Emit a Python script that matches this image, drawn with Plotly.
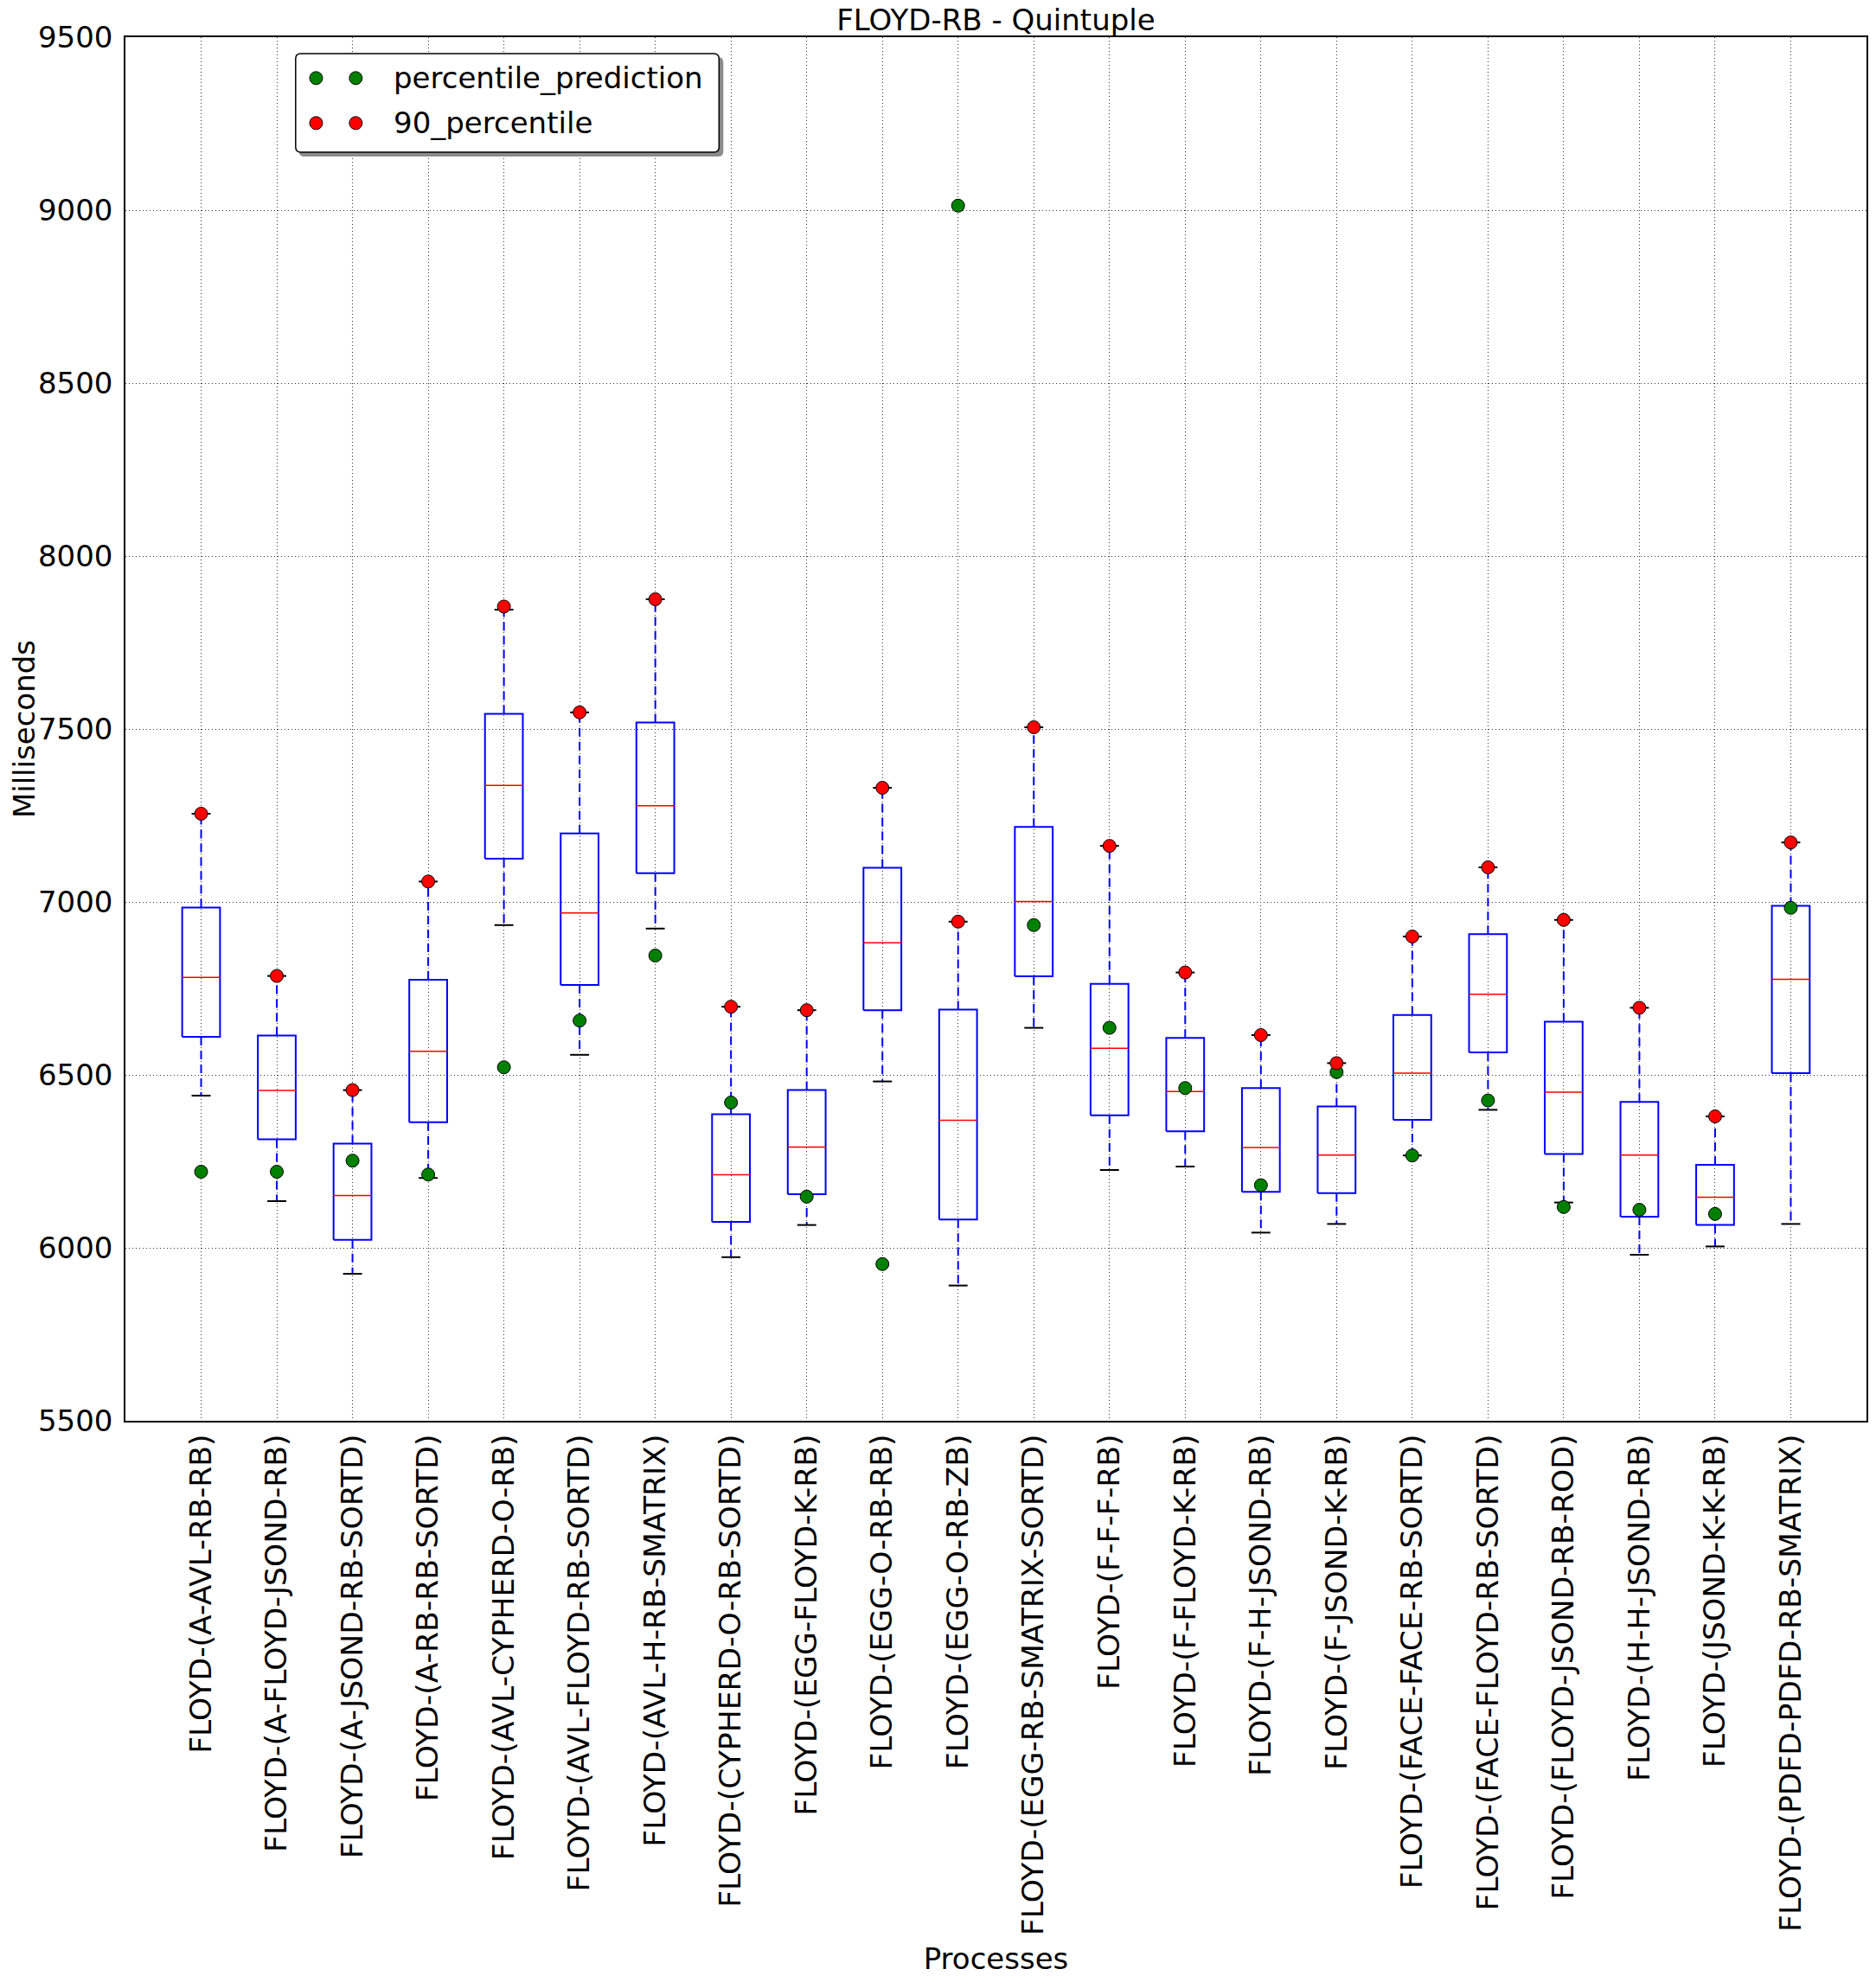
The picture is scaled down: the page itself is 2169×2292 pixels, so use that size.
import plotly.graph_objects as go

# ---------------- data ----------------
categories = [
    "FLOYD-(A-AVL-RB-RB)",
    "FLOYD-(A-FLOYD-JSOND-RB)",
    "FLOYD-(A-JSOND-RB-SORTD)",
    "FLOYD-(A-RB-RB-SORTD)",
    "FLOYD-(AVL-CYPHERD-O-RB)",
    "FLOYD-(AVL-FLOYD-RB-SORTD)",
    "FLOYD-(AVL-H-RB-SMATRIX)",
    "FLOYD-(CYPHERD-O-RB-SORTD)",
    "FLOYD-(EGG-FLOYD-K-RB)",
    "FLOYD-(EGG-O-RB-RB)",
    "FLOYD-(EGG-O-RB-ZB)",
    "FLOYD-(EGG-RB-SMATRIX-SORTD)",
    "FLOYD-(F-F-F-RB)",
    "FLOYD-(F-FLOYD-K-RB)",
    "FLOYD-(F-H-JSOND-RB)",
    "FLOYD-(F-JSOND-K-RB)",
    "FLOYD-(FACE-FACE-RB-SORTD)",
    "FLOYD-(FACE-FLOYD-RB-SORTD)",
    "FLOYD-(FLOYD-JSOND-RB-ROD)",
    "FLOYD-(H-H-JSOND-RB)",
    "FLOYD-(JSOND-K-K-RB)",
    "FLOYD-(PDFD-PDFD-RB-SMATRIX)",
]
whisker_low = [6440, 6135, 5925, 6202, 6933, 6558, 6923, 5973, 6066, 6481, 5891,
               6636, 6225, 6235, 6044, 6069, 6267, 6399, 6131, 5980, 6004, 6069]
q1 = [6610, 6314, 6023, 6363, 7125, 6760, 7083, 6075, 6155, 6687, 6082,
      6785, 6383, 6337, 6162, 6158, 6370, 6565, 6271, 6090, 6066, 6505]
median = [6782, 6455, 6151, 6568, 7337, 6968, 7278, 6211, 6291, 6882, 6369,
          7001, 6577, 6452, 6290, 6268, 6505, 6733, 6450, 6268, 6146, 6776]
q3 = [6984, 6614, 6301, 6775, 7544, 7198, 7519, 6386, 6456, 7099, 6689,
      7217, 6763, 6607, 6462, 6409, 6673, 6907, 6654, 6422, 6240, 6989]
whisker_high = [7255, 6786, 6456, 7059, 7845, 7548, 7875, 6697, 6687, 7330, 6943,
                7505, 7162, 6796, 6615, 6534, 6900, 7100, 6948, 6694, 6380, 7172]
percentile_90 = [7255, 6786, 6456, 7059, 7854, 7548, 7875, 6697, 6687, 7330, 6943,
                 7505, 7162, 6796, 6615, 6534, 6900, 7100, 6948, 6694, 6380, 7172]
percentile_prediction = [6220, 6220, 6252, 6212, 6522, 6657, 6845, 6420, 6148, 5953, 9013,
                         6933, 6636, 6462, 6181, 6508, 6267, 6426, 6118, 6110, 6098, 6983]
y_ticks = [5500, 6000, 6500, 7000, 7500, 8000, 8500, 9000, 9500]

positions = list(range(1, len(categories) + 1))

# ---------------- geometry / style ----------------
W, H = 2169, 2292
L, R, T, B = 145, 9, 43, 649
PW, PH = W - L - R, H - T - B
FONT = "DejaVu Sans"
BOX_HALF = 0.25
CAP_HALF = 0.125


def seg_lines(xs_pairs, ys_pairs):
    xs, ys = [], []
    for (xa, xb), (ya, yb) in zip(xs_pairs, ys_pairs):
        xs += [xa, xb, None]
        ys += [ya, yb, None]
    return xs, ys


# box outlines
bx, by = [], []
for p, a, b in zip(positions, q1, q3):
    bx += [p - BOX_HALF, p + BOX_HALF, p + BOX_HALF, p - BOX_HALF, p - BOX_HALF, None]
    by += [a, a, b, b, a, None]

mx, my = seg_lines([(p - BOX_HALF, p + BOX_HALF) for p in positions],
                   [(m, m) for m in median])

wx, wy = seg_lines([(p, p) for p in positions] * 2,
                   [(b, h) for b, h in zip(q3, whisker_high)] +
                   [(a, l) for a, l in zip(q1, whisker_low)])

cx, cy = seg_lines([(p - CAP_HALF, p + CAP_HALF) for p in positions] * 2,
                   [(h, h) for h in whisker_high] + [(l, l) for l in whisker_low])

fig = go.Figure()
fig.add_trace(go.Scatter(x=wx, y=wy, mode="lines", showlegend=False, hoverinfo="skip",
                         line=dict(color="#0000ff", width=2, dash="10px,6px")))
fig.add_trace(go.Scatter(x=bx, y=by, mode="lines", showlegend=False, hoverinfo="skip",
                         line=dict(color="#0000ff", width=2)))
fig.add_trace(go.Scatter(x=mx, y=my, mode="lines", showlegend=False, hoverinfo="skip",
                         line=dict(color="#ff0000", width=1.5)))
fig.add_trace(go.Scatter(x=cx, y=cy, mode="lines", showlegend=False, hoverinfo="skip",
                         line=dict(color="#000000", width=2)))
fig.add_trace(go.Scatter(x=positions, y=percentile_prediction, mode="markers",
                         name="percentile_prediction", showlegend=False,
                         marker=dict(color="#008000", size=15,
                                     line=dict(color="#000000", width=1))))
fig.add_trace(go.Scatter(x=positions, y=percentile_90, mode="markers",
                         name="90_percentile", showlegend=False,
                         marker=dict(color="#ff0000", size=15,
                                     line=dict(color="#000000", width=1))))


# ---------------- custom legend (two markers per entry, like matplotlib) ----------------
# positions given in screen pixels of the final picture
def px2x(px):
    return (px - L) / PW


def py2y(py):
    return (H - B - py) / PH


def rounded_path(x0p, y0p, x1p, y1p, r=6):
    x0, x1 = px2x(x0p), px2x(x1p)
    ytop, ybot = py2y(y0p), py2y(y1p)
    rx, ry = r / PW, r / PH
    return (f"M {x0+rx},{ytop} L {x1-rx},{ytop} Q {x1},{ytop} {x1},{ytop-ry} "
            f"L {x1},{ybot+ry} Q {x1},{ybot} {x1-rx},{ybot} "
            f"L {x0+rx},{ybot} Q {x0},{ybot} {x0},{ybot+ry} "
            f"L {x0},{ytop-ry} Q {x0},{ytop} {x0+rx},{ytop} Z")


shapes = []
shapes.append(dict(type="path", xref="paper", yref="paper",
                   path=rounded_path(346, 66, 837, 181), fillcolor="#8c8c8c",
                   line=dict(width=0), layer="above"))
shapes.append(dict(type="path", xref="paper", yref="paper",
                   path=rounded_path(342, 62, 832, 176), fillcolor="#ffffff",
                   line=dict(color="#000000", width=1.5), layer="above"))
legend_rows = [("percentile_prediction", "#008000", 90.3),
               ("90_percentile", "#ff0000", 142.3)]
annotations = []
for name, col, rowy in legend_rows:
    for mxp in (365.7, 411.6):
        shapes.append(dict(type="circle", xref="paper", yref="paper",
                           xsizemode="pixel", ysizemode="pixel",
                           xanchor=px2x(mxp), yanchor=py2y(rowy),
                           x0=-7.5, x1=7.5, y0=-7.5, y1=7.5,
                           fillcolor=col, line=dict(color="#000000", width=1),
                           layer="above"))
    annotations.append(dict(text=name, xref="paper", yref="paper",
                            x=px2x(453), y=py2y(rowy), xanchor="left", yanchor="middle",
                            showarrow=False, font=dict(family=FONT, size=34, color="#000000")))

# y-axis title, placed like matplotlib's
annotations.append(dict(text="Milliseconds", xref="paper", yref="paper",
                        x=px2x(28), y=0.5, xanchor="center", yanchor="middle",
                        textangle=-90, showarrow=False,
                        font=dict(family=FONT, size=34, color="#000000")))

axis_common = dict(showline=True, linecolor="#000000", linewidth=1.5, mirror=True,
                   showgrid=True, gridcolor="#333333", gridwidth=1, griddash="1px,3px",
                   zeroline=False, ticks="")

fig.update_layout(
    width=W, height=H, autosize=False,
    margin=dict(l=L, r=R, t=T, b=B, pad=0),
    paper_bgcolor="#ffffff", plot_bgcolor="#ffffff",
    font=dict(family=FONT, size=34, color="#000000"),
    title=dict(text="FLOYD-RB - Quintuple", x=0.5, xref="paper", xanchor="center",
               y=1, yref="paper", yanchor="bottom", pad=dict(b=8),
               font=dict(family=FONT, size=34, color="#000000")),
    xaxis=dict(range=[0, len(categories) + 1], tickmode="array", tickvals=positions,
               ticktext=categories, tickangle=-90, ticklabelstandoff=0,
               tickfont=dict(family=FONT, size=34.6, color="#000000"),
               title=dict(text="Processes", standoff=16,
                          font=dict(family=FONT, size=34, color="#000000")),
               **axis_common),
    yaxis=dict(range=[5500, 9500], tickmode="array", tickvals=y_ticks,
               ticklabelstandoff=6,
               tickfont=dict(family=FONT, size=34, color="#000000"),
               **axis_common),
    shapes=shapes,
    annotations=annotations,
    showlegend=False,
)

fig.write_html("out.html",
               config={"displayModeBar": False},
               post_script="document.body.style.margin='0px';"
                           "document.body.style.padding='0px';")
